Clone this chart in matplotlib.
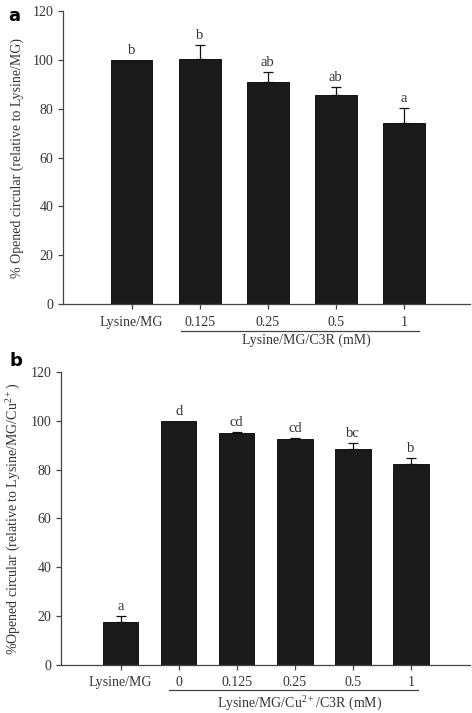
import numpy as np
import matplotlib
matplotlib.use("Agg")
import matplotlib.pyplot as plt
import matplotlib.transforms as mtransforms

plt.rcParams['font.family'] = ['Liberation Serif', 'DejaVu Serif']
plt.rcParams['mathtext.fontset'] = 'custom'
plt.rcParams['mathtext.rm'] = 'Liberation Serif'

# panel a
a_labels = ["Lysine/MG", "0.125", "0.25", "0.5", "1"]
a_means = [100.0, 100.4, 91.0, 85.6, 74.1]
a_err = [0.0, 5.5, 4.2, 3.4, 6.2]
a_letters = ["b", "b", "ab", "ab", "a"]

# panel b
b_labels = ["Lysine/MG", "0", "0.125", "0.25", "0.5", "1"]
b_means = [17.7, 100.0, 94.8, 92.5, 88.3, 82.3]
b_err = [2.5, 0.0, 0.7, 0.4, 2.4, 2.4]
b_letters = ["a", "d", "cd", "cd", "bc", "b"]

txt = '#333333'
bar_col = '#1a1a1a'

fig = plt.figure(figsize=(4.72, 7.13), dpi=100)
ax1 = fig.add_axes([0.1335, 0.5736, 0.862, 0.411])
ax2 = fig.add_axes([0.129, 0.0673, 0.867, 0.4113])


def draw(ax, labels, means, err, letters, xlim, ylabel, grp_text, grp_x, y_tl, y_line, y_grp):
    x = np.arange(len(labels))
    ax.bar(x, means, width=0.61, color=bar_col, edgecolor='#000000', linewidth=0.6, zorder=2)
    for xi, m, e in zip(x, means, err):
        if e > 0:
            ax.errorbar(xi, m, yerr=[[0], [e]], fmt='none', ecolor='#111111',
                        elinewidth=0.9, capsize=3.5, capthick=0.9, zorder=3)
    for xi, m, e, l in zip(x, means, err, letters):
        ax.text(xi, m + e + 1.2, l, ha='center', va='bottom', fontsize=10.5, color=txt)
    ax.set_xlim(*xlim)
    ax.set_ylim(0, 120)
    ax.set_yticks(np.arange(0, 121, 20))
    ax.set_xticks(x)
    ax.set_xticklabels([])
    ax.spines['top'].set_visible(False)
    ax.spines['right'].set_visible(False)
    for s in ['left', 'bottom']:
        ax.spines[s].set_color('#444444')
        ax.spines[s].set_linewidth(0.9)
    ax.tick_params(axis='both', direction='out', length=3.5, width=0.9, color='#444444',
                   labelsize=10, labelcolor=txt)
    ax.set_ylabel(ylabel, fontsize=10, color=txt, labelpad=6)
    trans = mtransforms.blended_transform_factory(ax.transData, ax.transAxes)
    for xi, l in zip(x, labels):
        ax.text(xi, y_tl, l, transform=trans, ha='center', va='center', fontsize=10, color=txt)
    ax.plot(grp_x, [y_line, y_line], transform=trans, color='#444444', lw=0.9, clip_on=False)
    ax.text(np.mean(grp_x) + 0.1, y_grp, grp_text, transform=trans, ha='center', va='center',
            fontsize=10, color=txt)


draw(ax1, a_labels, a_means, a_err, a_letters, (-1.01, 4.97),
     "% Opened circular (relative to Lysine/MG)", "Lysine/MG/C3R (mM)",
     [0.72, 4.22], -0.062, -0.092, -0.125)
draw(ax2, b_labels, b_means, b_err, b_letters, (-1.03, 6.02),
     "%Opened circular (relative to Lysine/MG/Cu$^{2+}$)", "Lysine/MG/Cu$^{2+}$/C3R (mM)",
     [0.83, 5.13], -0.06, -0.085, -0.128)

fig.text(0.018, 0.99, "a", fontsize=13, fontweight='bold', family='DejaVu Sans', va='top')
fig.text(0.02, 0.507, "b", fontsize=13, fontweight='bold', family='DejaVu Sans', va='top')

fig.savefig("out.png", dpi=100)
